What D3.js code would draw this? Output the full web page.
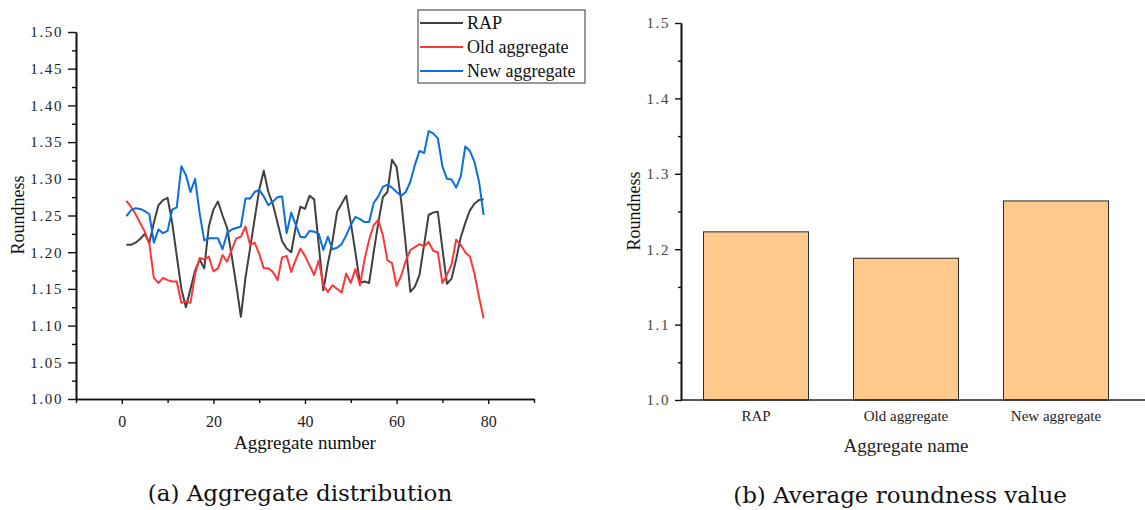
<!DOCTYPE html>
<html>
<head>
<meta charset="utf-8">
<script src="https://cdn.jsdelivr.net/npm/d3@7"></script>
<style>
  body { margin: 0; background: white; }
  svg { display: block; }
</style>
</head>
<body>
<script>
const SERIF = '"Liberation Serif", "Times New Roman", serif'
const CAPTION = '"DejaVu Serif", serif'
const W = 1145, H = 510

// left panel: roundness of each aggregate, x = 1..79
const aggNumbers = d3.range(1, 80)
const rap = [1.210, 1.210, 1.213, 1.218, 1.225, 1.212, 1.240, 1.264, 1.271, 1.274,
  1.240, 1.195, 1.150, 1.125, 1.150, 1.175, 1.190, 1.178, 1.235, 1.258,
  1.269, 1.250, 1.233, 1.195, 1.155, 1.112, 1.165, 1.205, 1.245, 1.285,
  1.311, 1.282, 1.265, 1.240, 1.215, 1.205, 1.200, 1.235, 1.262, 1.259,
  1.277, 1.272, 1.210, 1.148, 1.185, 1.215, 1.255, 1.266, 1.277, 1.240,
  1.200, 1.158, 1.160, 1.158, 1.200, 1.240, 1.275, 1.282, 1.326, 1.316,
  1.270, 1.210, 1.146, 1.153, 1.169, 1.210, 1.251, 1.254, 1.255, 1.205,
  1.157, 1.164, 1.190, 1.220, 1.240, 1.257, 1.266, 1.271, 1.272]
const oldAgg = [1.270, 1.262, 1.252, 1.240, 1.228, 1.212, 1.165, 1.158, 1.165, 1.162,
  1.160, 1.160, 1.131, 1.133, 1.131, 1.170, 1.192, 1.190, 1.194, 1.174,
  1.178, 1.196, 1.187, 1.203, 1.219, 1.221, 1.235, 1.210, 1.213, 1.198,
  1.178, 1.178, 1.173, 1.162, 1.193, 1.195, 1.173, 1.190, 1.205, 1.195,
  1.182, 1.169, 1.189, 1.155, 1.146, 1.155, 1.150, 1.145, 1.171, 1.158,
  1.177, 1.155, 1.190, 1.217, 1.237, 1.244, 1.223, 1.189, 1.185, 1.154,
  1.168, 1.188, 1.203, 1.207, 1.211, 1.208, 1.214, 1.202, 1.200, 1.158,
  1.169, 1.183, 1.217, 1.210, 1.200, 1.194, 1.171, 1.139, 1.110]
const newAgg = [1.249, 1.257, 1.260, 1.259, 1.256, 1.252, 1.213, 1.231, 1.226, 1.229,
  1.258, 1.261, 1.317, 1.305, 1.282, 1.300, 1.253, 1.216, 1.219, 1.219,
  1.219, 1.204, 1.226, 1.231, 1.233, 1.235, 1.273, 1.273, 1.282, 1.285,
  1.276, 1.264, 1.269, 1.275, 1.276, 1.226, 1.254, 1.237, 1.221, 1.220,
  1.229, 1.228, 1.225, 1.203, 1.221, 1.204, 1.206, 1.211, 1.223, 1.237,
  1.248, 1.245, 1.241, 1.241, 1.267, 1.276, 1.289, 1.292, 1.288, 1.282,
  1.277, 1.282, 1.296, 1.319, 1.338, 1.335, 1.365, 1.362, 1.355, 1.317,
  1.300, 1.299, 1.288, 1.303, 1.344, 1.338, 1.323, 1.296, 1.251]
const seriesNames = ['RAP', 'Old aggregate', 'New aggregate']
const seriesColors = ['#404040', '#ff3636', '#0a6ee0']

// ticks, left panel
const leftXTicks = [0, 20, 40, 60, 80]
const leftXMinor = [-10, 10, 30, 50, 70, 90]
const leftYTicks = [1.00, 1.05, 1.10, 1.15, 1.20, 1.25, 1.30, 1.35, 1.40, 1.45, 1.50]
const leftYMinor = [1.025, 1.075, 1.125, 1.175, 1.225, 1.275, 1.325, 1.375, 1.425, 1.475]

// right panel: average roundness
const barNames = ['RAP', 'Old aggregate', 'New aggregate']
const barValues = [1.223, 1.188, 1.264]
const rightYTicks = [1.0, 1.1, 1.2, 1.3, 1.4, 1.5]
const rightYMinor = [1.05, 1.15, 1.25, 1.35, 1.45]

const svg = d3.select('body').append('svg')
    .attr('width', W).attr('height', H)
    .style('background', 'white')

//----- left panel -----
const xL = d3.scaleLinear().domain([-10, 90]).range([76, 534])
const yL = d3.scaleLinear().domain([1.0, 1.5]).range([399, 32])

const gL = svg.append('g')

function styleAxis(g, size) {
    g.selectAll('path.domain').attr('stroke', '#111').attr('stroke-width', 1.6)
    g.selectAll('.tick line').attr('stroke', '#111').attr('stroke-width', 1.4)
    g.selectAll('.tick text').attr('font-family', SERIF).attr('font-size', size).attr('fill', '#222')
}

gL.append('g').attr('transform', 'translate(0,399)')
    .call(d3.axisBottom(xL).tickValues(leftXMinor).tickSize(4).tickFormat('').tickSizeOuter(0))
    .call(g => styleAxis(g, 15))
gL.append('g').attr('transform', 'translate(0,399)')
    .call(d3.axisBottom(xL).tickValues(leftXTicks).tickSize(5).tickPadding(12).tickSizeOuter(0))
    .call(g => styleAxis(g, 16))
gL.append('g').attr('transform', 'translate(76,0)')
    .call(d3.axisLeft(yL).tickValues(leftYMinor).tickSize(4).tickFormat('').tickSizeOuter(0))
    .call(g => styleAxis(g, 15))
gL.append('g').attr('transform', 'translate(76,0)')
    .call(d3.axisLeft(yL).tickValues(leftYTicks).tickSize(8).tickPadding(5).tickFormat(d3.format('.2f')).tickSizeOuter(0))
    .call(g => styleAxis(g, 15))
    .call(g => g.selectAll('.tick text').attr('letter-spacing', 1.6))

const line = d3.line().x((d, i) => xL(aggNumbers[i])).y(d => yL(d))
;[rap, oldAgg, newAgg].forEach((s, k) => {
    gL.append('path').datum(s)
        .attr('d', line).attr('fill', 'none')
        .attr('stroke', seriesColors[k]).attr('stroke-width', 2)
        .attr('stroke-linejoin', 'round')
})

// legend
const lg = gL.append('g')
lg.append('rect').attr('x', 418).attr('y', 10).attr('width', 167).attr('height', 73)
    .attr('fill', 'white').attr('stroke', '#555').attr('stroke-width', 1.2)
seriesNames.forEach((n, k) => {
    const yy = 23 + k * 24
    lg.append('line').attr('x1', 420).attr('x2', 463).attr('y1', yy).attr('y2', yy)
        .attr('stroke', seriesColors[k]).attr('stroke-width', 2)
    lg.append('text').attr('x', 467).attr('y', yy).attr('dy', '0.35em')
        .attr('font-family', SERIF).attr('font-size', 18).attr('fill', '#111').text(n)
})

gL.append('text').attr('transform', 'translate(24,215) rotate(-90)')
    .attr('text-anchor', 'middle').attr('font-family', SERIF).attr('font-size', 18).attr('fill', '#111')
    .text('Roundness')
gL.append('text').attr('x', 305).attr('y', 449).attr('text-anchor', 'middle')
    .attr('font-family', SERIF).attr('font-size', 19).attr('fill', '#111')
    .text('Aggregate number')
gL.append('text').attr('x', 300).attr('y', 501).attr('text-anchor', 'middle')
    .attr('font-family', CAPTION).attr('font-size', 23).attr('fill', '#111')
    .text('(a) Aggregate distribution')

//----- right panel -----
const xR = d3.scaleBand().domain(barNames).range([681, 1131]).paddingInner(0.3).paddingOuter(0.15)
const yR = d3.scaleLinear().domain([1.0, 1.5]).range([400, 23])
const gR = svg.append('g')

gR.selectAll('rect.bar').data(barValues).join('rect').attr('class', 'bar')
    .attr('x', (d, i) => xR(barNames[i])).attr('width', xR.bandwidth())
    .attr('y', d => yR(d)).attr('height', d => yR(1.0) - yR(d))
    .attr('fill', '#ffc98b').attr('stroke', '#2a2a2a').attr('stroke-width', 1)

gR.append('line').attr('x1', 681).attr('x2', W).attr('y1', 400).attr('y2', 400)
    .attr('stroke', '#222').attr('stroke-width', 1.6)
gR.append('g').attr('transform', 'translate(0,400)')
    .call(d3.axisBottom(xR).tickSize(0).tickPadding(10).tickSizeOuter(0))
    .call(g => styleAxis(g, 15))
    .call(g => g.select('path.domain').remove())
gR.append('g').attr('transform', 'translate(681,0)')
    .call(d3.axisLeft(yR).tickValues(rightYMinor).tickSize(3).tickFormat('').tickSizeOuter(0))
    .call(g => styleAxis(g, 15))
gR.append('g').attr('transform', 'translate(681,0)')
    .call(d3.axisLeft(yR).tickValues(rightYTicks).tickSize(6).tickPadding(5).tickFormat(d3.format('.1f')).tickSizeOuter(0))
    .call(g => styleAxis(g, 15))
    .call(g => g.selectAll('.tick text').attr('letter-spacing', 1.6).attr('fill', '#444'))

gR.append('text').attr('transform', 'translate(640,211) rotate(-90)')
    .attr('text-anchor', 'middle').attr('font-family', SERIF).attr('font-size', 18).attr('fill', '#111')
    .text('Roundness')
gR.append('text').attr('x', 906).attr('y', 452).attr('text-anchor', 'middle')
    .attr('font-family', SERIF).attr('font-size', 19).attr('fill', '#222')
    .text('Aggregate name')
gR.append('text').attr('x', 900).attr('y', 503).attr('text-anchor', 'middle')
    .attr('font-family', CAPTION).attr('font-size', 23).attr('fill', '#111')
    .text('(b) Average roundness value')
</script>
</body>
</html>
